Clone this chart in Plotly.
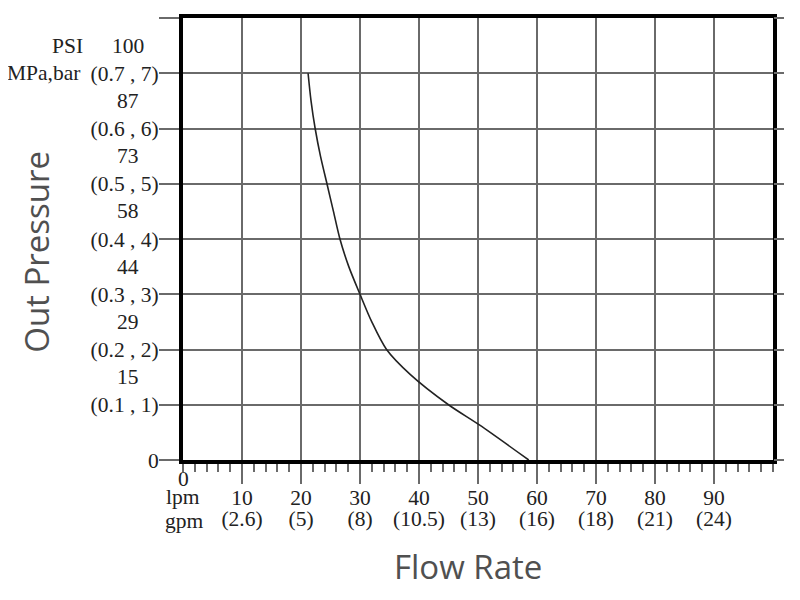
import plotly.graph_objects as go

# flow rate (lpm) vs out pressure (MPa)
flow_lpm = [21.2, 21.7, 22.4, 23.3, 24.4, 25.5, 26.6, 28.1, 30.0, 32.0, 34.5, 38.5, 45.0, 50.3, 58.6]
pressure_mpa = [0.70, 0.65, 0.60, 0.55, 0.50, 0.45, 0.40, 0.35, 0.30, 0.25, 0.20, 0.155, 0.10, 0.063, 0.0]

# x axis ticks
lpm_ticks = [10, 20, 30, 40, 50, 60, 70, 80, 90]
gpm_labels = ["(2.6)", "(5)", "(8)", "(10.5)", "(13)", "(16)", "(18)", "(21)", "(24)"]

# y axis ticks
mpa_ticks = [0, 0.1, 0.2, 0.3, 0.4, 0.5, 0.6, 0.7, 0.8]
mpa_labels = ["0", "(0.1 , 1)", "(0.2 , 2)", "(0.3 , 3)", "(0.4 , 4)",
              "(0.5 , 5)", "(0.6 , 6)", "(0.7 , 7)", ""]
psi_labels = ["15", "29", "44", "58", "73", "87", "100"]

serif = dict(family="Liberation Serif", size=21.5, color="#222")
sans = dict(family="Open Sans", size=33, color="#505050")
grid = "#6a6a6a"

fig = go.Figure()
fig.add_trace(go.Scatter(
    x=flow_lpm, y=pressure_mpa, mode="lines",
    line=dict(color="#222", width=1.6, shape="spline", smoothing=0.8),
    hoverinfo="skip", showlegend=False,
))
# empty trace so the overlay axes (gpm labels, right ticks) get drawn
fig.add_trace(go.Scatter(x=[], y=[], xaxis="x2", yaxis="y2", showlegend=False))

# page body adds an 8px offset, margins compensate for it
fig.update_layout(
    width=800, height=600,
    margin=dict(l=175, r=35, t=6, b=148),
    paper_bgcolor="white", plot_bgcolor="white",
    xaxis=dict(
        range=[0, 100], tickvals=lpm_ticks, ticktext=[str(v) for v in lpm_ticks],
        ticks="outside", ticklen=20, tickwidth=1.5, tickcolor=grid,
        showgrid=True, gridcolor=grid, gridwidth=1.5,
        showline=True, linecolor="black", linewidth=4, mirror=True,
        zeroline=False, tickfont=serif, ticklabelstandoff=-5,
        minor=dict(dtick=2, ticks="outside", ticklen=8, tickcolor=grid,
                   tickwidth=1.5, showgrid=False),
    ),
    xaxis2=dict(
        range=[0, 100], overlaying="x", anchor="y", side="bottom",
        tickvals=lpm_ticks, ticktext=gpm_labels, ticks="", ticklabelstandoff=43,
        showgrid=False, zeroline=False, showline=False, tickfont=serif,
    ),
    yaxis=dict(
        range=[0, 0.8], tickvals=mpa_ticks, ticktext=mpa_labels,
        ticks="outside", ticklen=20, tickwidth=1.5, tickcolor=grid,
        showgrid=True, gridcolor=grid, gridwidth=1.5,
        showline=True, linecolor="black", linewidth=4, mirror=True,
        zeroline=False, tickfont=serif, ticklabelstandoff=-4,
    ),
    yaxis2=dict(
        range=[0, 0.8], overlaying="y", anchor="x", side="right", tickvals=mpa_ticks,
        ticks="outside", ticklen=10, tickwidth=1.5, tickcolor=grid,
        showticklabels=False, showgrid=False, zeroline=False, showline=False,
    ),
)

# PSI values sit between the grid lines, above each MPa label
for i, psi in enumerate(psi_labels):
    fig.add_annotation(x=-0.093, xref="paper", y=mpa_ticks[i + 1] + 0.05, yref="y",
                       text=psi, showarrow=False, font=serif, xanchor="center")

fig.add_annotation(x=-0.195, xref="paper", y=0.75, yref="y", text="PSI",
                   showarrow=False, font=serif, xanchor="center")
fig.add_annotation(x=-0.236, xref="paper", y=0.70, yref="y", text="MPa,bar",
                   showarrow=False, font=serif, xanchor="center")

fig.add_annotation(x=0, xref="x", y=-0.043, yref="paper", text="0",
                   showarrow=False, font=serif, xanchor="center", yanchor="middle")
fig.add_annotation(x=0, xref="x", y=-0.083, yref="paper", text="lpm",
                   showarrow=False, font=serif, xanchor="center", yanchor="middle")
fig.add_annotation(x=0.003, xref="paper", y=-0.137, yref="paper", text="gpm",
                   showarrow=False, font=serif, xanchor="center", yanchor="middle")

fig.add_annotation(x=0.483, xref="paper", y=-0.242, yref="paper", text="Flow Rate",
                   showarrow=False, font=sans, xanchor="center", yanchor="middle")
fig.add_annotation(x=-0.2475, xref="paper", y=0.471, yref="paper", text="Out Pressure",
                   showarrow=False, font=sans, textangle=-90,
                   xanchor="center", yanchor="middle")

fig.write_html("out.html")
